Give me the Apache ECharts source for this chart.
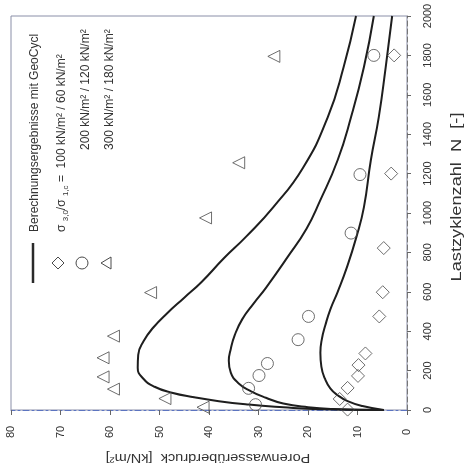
<!DOCTYPE html>
<html>
<head>
<meta charset="utf-8">
<script src="https://cdn.jsdelivr.net/npm/echarts@6/dist/echarts.min.js"></script>
<style>
html,body{margin:0;padding:0;background:#fff;}
#c{width:468px;height:473px;}
</style>
</head>
<body>
<div id="c"></div>
<script>
// [Porenwasserüberdruck kN/m², Lastzyklenzahl N]
const curve100 = [[4.7,0],[9,20],[12,45],[14,75],[15.5,110],[16.6,160],[17.3,220],[17.5,290],[17.2,360],[16.5,430],[15.5,510],[14,600],[12.2,720],[10.2,880],[8.7,1030],[7.3,1269],[5.7,1487],[4.3,1741],[3.0,2000]];
const curve200 = [[4.7,0],[15,5],[20,14],[25,33],[28.5,62],[31.5,95],[34,135],[35.6,190],[36,250],[35.6,310],[34.8,380],[33.3,460],[31,540],[28.5,620],[24.1,777],[20.3,920],[17.6,1060],[14,1269],[11.3,1487],[8.7,1741],[6.7,2000]];
const curve300 = [[4.7,0],[19,5],[25,14],[32,28],[38,45],[43,65],[47.5,88],[51,118],[53.3,160],[54.4,215],[54.3,280],[53.2,350],[51.2,420],[48.5,490],[45,570],[41.5,650],[37,770],[32.5,880],[27,1030],[21,1230],[16,1487],[12.8,1741],[10.3,2000]];

const points100 = [[2.6,1800],[3.2,1200],[4.7,822],[4.9,598],[5.6,475],[8.4,287],[9.8,228],[9.9,173],[12,112],[13.6,56],[12,2]];
const points200 = [[6.7,1800],[9.5,1195],[11.3,898],[19.9,475],[22,357],[28.2,236],[29.9,175],[32,110],[30.6,27]];
const points300 = [[26.9,1795],[34,1255],[40.7,975],[51.8,596],[59.3,375],[61.4,265],[61.4,168],[59.3,106],[48.9,58],[41.2,14]];

const legendTitle = 'Berechnungsergebnisse mit GeoCycl';
const legendRows = ['100 kN/m² / 60 kN/m²', '200 kN/m² / 120 kN/m²', '300 kN/m² / 180 kN/m²'];
const xName = 'Porenwasserüberdruck  [kN/m²]';
const yName = 'Lastzyklenzahl  N  [-]';

const FONT = '"Liberation Sans", Arial, sans-serif';
const TXT = '#333';
const MARK = '#4a4a4a';

const chart = echarts.init(document.getElementById('c'), null, {renderer: 'canvas'});

function lineSeries(d) {
  return {
    type: 'line', data: d, smooth: 0.5, showSymbol: false,
    lineStyle: {color: '#1e1e1e', width: 2}, silent: true, z: 3
  };
}
function scatterSeries(d, sym, size, rot) {
  return {
    type: 'scatter', data: d, symbol: sym, symbolSize: size, symbolRotate: rot || 0,
    itemStyle: {color: 'rgba(0,0,0,0)', borderColor: MARK, borderWidth: 1}, silent: true, z: 4
  };
}

chart.setOption({
  animation: false,
  backgroundColor: '#fff',
  grid: {left: 11, right: 61, top: 16, bottom: 63, show: true, borderColor: '#8a8fa8', borderWidth: 1},
  xAxis: {
    type: 'value', min: 0, max: 80, interval: 10, inverse: true,
    axisLine: {show: true, lineStyle: {color: '#5c74c0', width: 1, type: [6, 3, 2, 3]}},
    axisTick: {show: true, length: 5, lineStyle: {color: '#666'}},
    axisLabel: {rotate: 90, align: 'center', verticalAlign: 'middle', margin: 22, fontFamily: FONT, fontSize: 11, color: TXT,
      formatter: v => String(v)},
    splitLine: {show: false}
  },
  yAxis: {
    type: 'value', min: 0, max: 2000, interval: 200, position: 'right',
    axisLine: {show: true, lineStyle: {color: '#777', width: 1, type: [5, 3]}},
    axisTick: {show: true, length: 4, lineStyle: {color: '#666'}},
    axisLabel: {rotate: 90, align: 'center', verticalAlign: 'middle', margin: 21, fontFamily: FONT, fontSize: 11, color: TXT,
      formatter: v => String(v)},
    splitLine: {show: false}
  },
  series: [
    lineSeries(curve100), lineSeries(curve200), lineSeries(curve300),
    scatterSeries(points100, 'diamond', 13, 0),
    scatterSeries(points200, 'circle', 12, 0),
    scatterSeries(points300, 'triangle', 12, 90)
  ],
  graphic: [
    // legend icons
    {type: 'line', shape: {x1: 33, y1: 243, x2: 33, y2: 283}, style: {stroke: '#2a2a2a', lineWidth: 2.5}},
    {type: 'polygon', shape: {points: [[58, 257], [64, 263], [58, 269], [52, 263]]}, style: {fill: 'none', stroke: MARK, lineWidth: 1}},
    {type: 'circle', shape: {cx: 82, cy: 263, r: 6}, style: {fill: 'none', stroke: MARK, lineWidth: 1}},
    {type: 'polygon', shape: {points: [[101, 263], [111, 257], [111, 269]]}, style: {fill: 'none', stroke: MARK, lineWidth: 1}},
    // legend texts
    {type: 'text', x: 35, y: 232, rotation: Math.PI / 2,
      style: {text: legendTitle, font: '12px ' + FONT, fill: TXT, align: 'left', verticalAlign: 'middle'}},
    {type: 'text', x: 62, y: 232, rotation: Math.PI / 2,
      style: {
        text: '{n|σ }{s|3,0}{n|/σ }{s|1,c}{n| =  ' + legendRows[0] + '}',
        align: 'left', verticalAlign: 'middle',
        rich: {
          n: {fontSize: 12, fontFamily: FONT, fill: TXT, lineHeight: 16, verticalAlign: 'middle'},
          s: {fontSize: 8, fontFamily: FONT, fill: TXT, lineHeight: 16, verticalAlign: 'bottom', padding: [6, 0, 0, 0]}
        }
      }},
    {type: 'text', x: 86, y: 150, rotation: Math.PI / 2,
      style: {text: legendRows[1], font: '12px ' + FONT, fill: TXT, align: 'left', verticalAlign: 'middle'}},
    {type: 'text', x: 110, y: 150, rotation: Math.PI / 2,
      style: {text: legendRows[2], font: '12px ' + FONT, fill: TXT, align: 'left', verticalAlign: 'middle'}},
    // axis names
    {type: 'text', x: 457, y: 197, rotation: Math.PI / 2, scaleX: 1.3,
      style: {text: yName, font: '14px ' + FONT, fill: TXT, align: 'center', verticalAlign: 'middle'}},
    {type: 'text', x: 208, y: 458, rotation: Math.PI, scaleX: 1.12,
      style: {text: xName, font: '13px ' + FONT, fill: TXT, align: 'center', verticalAlign: 'middle'}}
  ]
});
</script>
</body>
</html>
